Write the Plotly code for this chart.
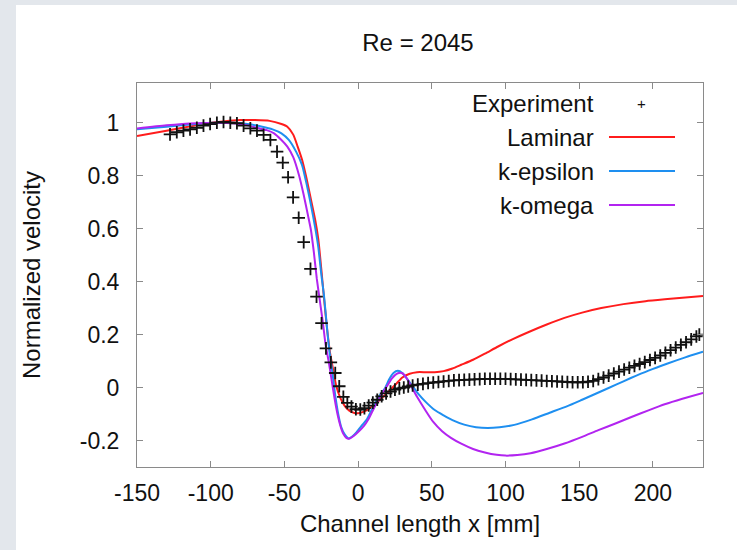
import plotly.graph_objects as go

# ---------------- data ----------------
lam_x = [-150, -130, -110, -95, -80, -70, -60, -52, -48, -44, -41, -38, -35, -32, -29, -27, -25, -23, -21,
         -19, -17, -15, -12, -9, -6, -3, 0, 3, 6, 10, 14, 18, 22, 26, 30, 35, 40, 46, 52, 58, 64, 70, 78,
         86, 95, 105, 115, 128, 140, 152, 165, 180, 195, 210, 222, 234]
lam_y = [0.95, 0.97, 0.99, 1.003, 1.01, 1.01, 1.007, 0.995, 0.985, 0.955, 0.91, 0.86, 0.79, 0.71, 0.63, 0.56,
         0.45, 0.33, 0.22, 0.13, 0.07, 0.01, -0.04, -0.07, -0.087, -0.095, -0.097, -0.093, -0.085, -0.07,
         -0.05, -0.03, -0.008, 0.015, 0.038, 0.052, 0.058, 0.058, 0.058, 0.062, 0.072, 0.086, 0.105, 0.128,
         0.155, 0.183, 0.208, 0.238, 0.263, 0.283, 0.300, 0.315, 0.326, 0.334, 0.340, 0.346]

keps_x = [-150, -130, -110, -95, -85, -75, -65, -58, -52, -47, -42, -38, -35, -32, -29, -27, -25, -23, -21,
          -19.5, -17.5, -15.5, -13.5, -11.5, -9, -6.5, -4, -1, 3, 6, 10, 14, 18, 21, 24, 27, 30, 33, 37,
          41, 46, 52, 58, 64, 72, 80, 88, 96, 106, 118, 130, 142, 152, 165, 175, 185, 197, 210, 222, 234]
keps_y = [0.975, 0.985, 0.995, 1.0, 1.0, 0.995, 0.985, 0.975, 0.96, 0.935, 0.89, 0.84, 0.77, 0.69, 0.60,
          0.53, 0.43, 0.34, 0.22, 0.14, 0.06, -0.03, -0.10, -0.148, -0.178, -0.192, -0.185, -0.168, -0.14,
          -0.12, -0.075, -0.035, -0.005, 0.03, 0.055, 0.063, 0.055, 0.035, 0.005, -0.025, -0.055, -0.085,
          -0.105, -0.123, -0.14, -0.15, -0.153, -0.15, -0.141, -0.12, -0.095, -0.07, -0.046, -0.014, 0.011,
          0.036, 0.064, 0.091, 0.114, 0.135]

kom_x = [-150, -130, -110, -95, -85, -75, -68, -62, -57, -52, -48, -44, -40, -37, -34, -32, -30, -28, -26,
         -24, -22, -20, -18, -16, -14, -12, -10, -8, -6, -3, 0, 4, 7, 11, 15, 19, 23, 27, 30, 33, 36, 40,
         45, 51, 57, 63, 70, 78, 86, 94, 100, 108, 117, 128, 140, 152, 163, 175, 185, 197, 208, 220, 234]
kom_y = [0.978, 0.99, 0.998, 1.0, 0.998, 0.99, 0.98, 0.972, 0.96, 0.935, 0.91, 0.87, 0.80, 0.73, 0.65,
         0.595, 0.51, 0.41, 0.33, 0.25, 0.16, 0.10, 0.03, -0.04, -0.10, -0.145, -0.175, -0.19, -0.193,
         -0.183, -0.168, -0.145, -0.12, -0.075, -0.035, 0.0, 0.035, 0.054, 0.054, 0.035, 0.005, -0.035,
         -0.08, -0.13, -0.165, -0.19, -0.212, -0.232, -0.245, -0.254, -0.257, -0.255, -0.248, -0.232,
         -0.211, -0.186, -0.161, -0.135, -0.112, -0.086, -0.063, -0.042, -0.020]

exp_x = [-127.6, -123.0, -118.5, -114.0, -109.4, -104.9, -100.4, -95.8, -91.3, -86.7, -82.2, -77.7, -73.1,
         -68.6, -64.1, -59.5, -55.0, -51.1, -47.5, -44.1, -40.3, -36.9, -32.3, -28.2, -24.8, -21.8, -18.5,
         -15.5, -12.8, -10.0, -7.3, -4.5, -1.5, 1.5, 4.3, 7.2, 10.0, 13.0, 16.0, 19.0, 22.0, 25.0, 28.0,
         31.0, 34.0, 37.0, 40.5, 44.0, 47.5, 51.0, 54.5, 58.0, 61.5, 65.0, 68.5, 72.0, 75.5, 79.0, 82.5,
         86.0, 89.5, 93.0, 96.5, 100.0, 103.5, 107.0, 110.5, 114.0, 117.5, 121.0, 124.5, 128.0, 131.5,
         135.0, 138.5, 142.0, 145.5, 149.0, 152.5, 156.0, 159.5, 163.0, 166.5, 170.0, 173.5, 177.0, 180.5,
         184.0, 187.5, 191.0, 194.5, 198.0, 201.5, 205.0, 208.5, 212.0, 215.5, 219.0, 222.5, 226.0, 229.5,
         231.5]
exp_y = [0.956, 0.964, 0.970, 0.975, 0.981, 0.989, 0.995, 1.000, 1.003, 1.000, 0.998, 0.989, 0.979, 0.970,
         0.954, 0.935, 0.891, 0.849, 0.794, 0.718, 0.641, 0.549, 0.448, 0.343, 0.243, 0.148, 0.095, 0.055,
         0.005, -0.035, -0.058, -0.072, -0.082, -0.083, -0.078, -0.068, -0.057, -0.046, -0.033, -0.022,
         -0.015, -0.008, -0.003, 0.000, 0.004, 0.008, 0.011, 0.014, 0.017, 0.019, 0.021, 0.023, 0.025,
         0.027, 0.028, 0.029, 0.030, 0.031, 0.032, 0.033, 0.033, 0.033, 0.033, 0.033, 0.032, 0.031, 0.030,
         0.029, 0.028, 0.027, 0.026, 0.025, 0.024, 0.023, 0.022, 0.021, 0.020, 0.020, 0.020, 0.022, 0.025,
         0.032, 0.038, 0.045, 0.053, 0.060, 0.068, 0.075, 0.082, 0.089, 0.096, 0.104, 0.112, 0.121, 0.131,
         0.141, 0.151, 0.161, 0.171, 0.182, 0.193, 0.200]

x_ticks = [-150, -100, -50, 0, 50, 100, 150, 200]
x_tick_text = ["-150", "-100", "-50", "0", "50", "100", "150", "200"]
y_ticks = [-0.2, 0, 0.2, 0.4, 0.6, 0.8, 1]
y_tick_text = ["-0.2", "0", "0.2", "0.4", "0.6", "0.8", "1"]

series_names = ["Experiment", "Laminar", "k-epsilon", "k-omega"]
RED, BLUE, PURPLE = "#ff1c1c", "#1e8ff0", "#b224f0"
BG = "#e3e7ec"

# ---------------- figure ----------------
FONT = "Liberation Sans, Arial, sans-serif"
FS = 24
fig = go.Figure()

for xs, ys, col, name in [(lam_x, lam_y, RED, series_names[1]),
                          (keps_x, keps_y, BLUE, series_names[2]),
                          (kom_x, kom_y, PURPLE, series_names[3])]:
    fig.add_trace(go.Scatter(x=xs, y=ys, mode="lines", name=name,
                             line=dict(color=col, width=2, shape="spline", smoothing=0.6)))

fig.add_trace(go.Scatter(x=exp_x, y=exp_y, mode="markers", name=series_names[0],
                         marker=dict(symbol="cross-thin", size=9, color="#111",
                                     line=dict(color="#111", width=1.8))))

L, R, T, B = 137, 34, 83, 83
W, H = 737, 550
pw, ph = W - L - R, H - T - B

def px(xpix):
    return (xpix - L) / pw

def py(ypix):
    return (H - B - ypix) / ph

shapes = [dict(type="rect", xref="paper", yref="paper", x0=px(16), x1=px(745), y0=py(560), y1=py(5),
               fillcolor="white", line=dict(width=0), layer="below")]
annotations = []
rows = [103, 137, 171, 205]
for i, name in enumerate(series_names):
    annotations.append(dict(xref="paper", yref="paper", x=px(596), y=py(rows[i]), text=name,
                            showarrow=False, xanchor="right", yanchor="middle",
                            font=dict(family=FONT, size=FS, color="#111")))
annotations.append(dict(xref="paper", yref="paper", x=px(641), y=py(rows[0]), text="+",
                        showarrow=False, xanchor="center", yanchor="middle",
                        font=dict(family=FONT, size=15, color="#111")))
for i, col in enumerate([RED, BLUE, PURPLE]):
    shapes.append(dict(type="line", xref="paper", yref="paper", x0=px(609), x1=px(675),
                       y0=py(rows[i + 1]), y1=py(rows[i + 1]), line=dict(color=col, width=2)))

axis_common = dict(showline=True, linecolor="#8a8a8a", linewidth=1, mirror="ticks", ticks="inside",
                   ticklen=6, tickcolor="#8a8a8a", showgrid=False, zeroline=False, automargin=False,
                   tickfont=dict(family=FONT, size=23, color="#111"))

fig.update_layout(
    width=W, height=H,
    margin=dict(l=L, r=R, t=T, b=B),
    paper_bgcolor=BG, plot_bgcolor="white",
    showlegend=False,
    title=dict(text="Re = 2045", x=418 / W, xanchor="center", y=1 - 43 / H,
               yanchor="middle", font=dict(family=FONT, size=FS, color="#111")),
    xaxis=dict(range=[-150, 234], tickvals=x_ticks, ticktext=x_tick_text, ticklabelstandoff=5,
               title=dict(text="Channel length x [mm]", standoff=10,
                          font=dict(family=FONT, size=FS, color="#111")),
               **axis_common),
    yaxis=dict(range=[-0.3, 1.15], tickvals=y_ticks, ticktext=y_tick_text, ticklabelstandoff=12,
               title=dict(text="Normalized velocity", standoff=32,
                          font=dict(family=FONT, size=FS, color="#111")),
               **axis_common),
    shapes=shapes,
    annotations=annotations,
)

fig.write_html("out.html", config={"displayModeBar": False},
               post_script="document.body.style.margin='0px';document.body.style.background='" + BG + "';")
